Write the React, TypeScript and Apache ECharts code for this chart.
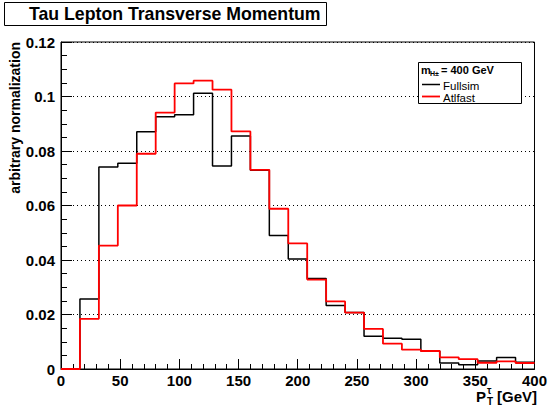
import React, { useEffect, useRef } from "react";
import * as echarts from "echarts";

const binEdges = [0, 16, 32, 48, 64, 80, 96, 112, 128, 144, 160, 176, 192, 208, 224, 240, 256, 272, 288, 304, 320, 336, 352, 368, 384, 400];
const fullsim = [0, 0.0257, 0.0741, 0.0755, 0.0871, 0.0926, 0.0933, 0.1012, 0.0745, 0.0855, 0.0729, 0.049, 0.0404, 0.0332, 0.0233, 0.0207, 0.012, 0.0113, 0.0109, 0.0066, 0.0022, 0.0016, 0.0029, 0.0042, 0.0025];
const atlfast = [0, 0.0184, 0.0453, 0.060, 0.079, 0.0941, 0.1048, 0.1058, 0.1025, 0.0872, 0.0731, 0.0588, 0.0461, 0.0328, 0.0248, 0.0207, 0.0147, 0.0093, 0.0071, 0.0066, 0.0043, 0.0036, 0.0023, 0.0028, 0.0022];
const xTicks = { min: 0, max: 400, interval: 50 };
const yTicks = { min: 0, max: 0.12, interval: 0.02 };
const titleText = "Tau Lepton Transverse Momentum";
const yTitle = "arbitrary normalization";
const legendNames = ["Fullsim", "Atlfast"];

function histData(vals: number[]) {
  const d: [number, number][] = vals.map((v, i) => [binEdges[i], v]);
  d.push([binEdges[binEdges.length - 1], vals[vals.length - 1]]);
  return d;
}

const FONT = "'Liberation Sans', Arial, Helvetica, sans-serif";

export default function App() {
  const ref = useRef<HTMLDivElement>(null);
  useEffect(() => {
    if (!ref.current) return;
    const chart = echarts.init(ref.current, undefined, { renderer: "svg" });
    const axisLabelStyle = { color: "#000", fontFamily: FONT, fontWeight: "bold" as const, fontSize: 15 };
    chart.setOption({
      animation: false,
      backgroundColor: "#fff",
      grid: { left: 61, right: 12, top: 42, bottom: 40, show: true, borderColor: "#000", borderWidth: 1, backgroundColor: "transparent" },
      xAxis: {
        type: "value",
        min: xTicks.min,
        max: xTicks.max,
        interval: xTicks.interval,
        axisLine: { show: true, lineStyle: { color: "#000", width: 1 } },
        axisTick: { show: true, inside: true, length: 10, lineStyle: { color: "#000" } },
        minorTick: { show: true, splitNumber: 5, length: 5, lineStyle: { color: "#000" } },
        splitLine: { show: false },
        axisLabel: { ...axisLabelStyle, margin: 4 },
      },
      yAxis: {
        type: "value",
        min: yTicks.min,
        max: yTicks.max,
        interval: yTicks.interval,
        axisLine: { show: true, lineStyle: { color: "#000", width: 1 } },
        axisTick: { show: true, inside: true, length: 11, lineStyle: { color: "#000" } },
        minorTick: { show: true, splitNumber: 4, length: 6, lineStyle: { color: "#000" } },
        splitLine: { show: true, lineStyle: { color: "#000", type: [1, 3], width: 1 } },
        axisLabel: { ...axisLabelStyle, margin: 6, formatter: (v: number) => String(+v.toFixed(2)) },
      },
      series: [
        {
          name: legendNames[0],
          type: "line",
          step: "end",
          symbol: "none",
          data: histData(fullsim),
          lineStyle: { color: "#000", width: 1.5 },
          z: 2,
        },
        {
          name: legendNames[1],
          type: "line",
          step: "end",
          symbol: "none",
          data: histData(atlfast),
          lineStyle: { color: "#ff0000", width: 1.8 },
          z: 3,
        },
      ],
      graphic: [
        { type: "rect", shape: { x: 4.5, y: 2.5, width: 322, height: 23 }, style: { fill: "#fff", stroke: "#000", lineWidth: 1 }, z: 10 },
        { type: "text", x: 29, y: 14, style: { text: titleText, fill: "#000", font: `bold 17.7px ${FONT}`, textAlign: "left", textVerticalAlign: "middle" }, z: 11 },
        { type: "text", x: 15, y: 42, rotation: Math.PI / 2, style: { text: yTitle, fill: "#000", font: `bold 14px ${FONT}`, textAlign: "right", textVerticalAlign: "middle" }, z: 11 },
        { type: "text", x: 537, y: 396, style: { text: "[GeV]", fill: "#000", font: `bold 15px ${FONT}`, textAlign: "right", textVerticalAlign: "middle" }, z: 11 },
        { type: "text", x: 476, y: 396, style: { text: "P", fill: "#000", font: `bold 15px ${FONT}`, textAlign: "left", textVerticalAlign: "middle" }, z: 11 },
        { type: "text", x: 487, y: 390, style: { text: "τ", fill: "#000", font: `bold 10px ${FONT}`, textAlign: "left", textVerticalAlign: "middle" }, z: 11 },
        { type: "text", x: 487, y: 401, style: { text: "T", fill: "#000", font: `bold 10px ${FONT}`, textAlign: "left", textVerticalAlign: "middle" }, z: 11 },
        { type: "rect", shape: { x: 418.5, y: 62.5, width: 103, height: 41 }, style: { fill: "#fff", stroke: "#000", lineWidth: 1 }, z: 10 },
        { type: "text", x: 421, y: 70, style: { text: "m", fill: "#000", font: `bold 11px ${FONT}`, textAlign: "left", textVerticalAlign: "middle" }, z: 11 },
        { type: "text", x: 430, y: 73, style: { text: "H±", fill: "#000", font: `bold 7px ${FONT}`, textAlign: "left", textVerticalAlign: "middle" }, z: 11 },
        { type: "text", x: 441, y: 70, style: { text: "= 400 GeV", fill: "#000", font: `bold 11px ${FONT}`, textAlign: "left", textVerticalAlign: "middle" }, z: 11 },
        { type: "line", shape: { x1: 422, y1: 84.5, x2: 440, y2: 84.5 }, style: { stroke: "#000", lineWidth: 1.5 }, z: 11 },
        { type: "text", x: 443, y: 86, style: { text: legendNames[0], fill: "#000", font: `11.5px ${FONT}`, textAlign: "left", textVerticalAlign: "middle" }, z: 11 },
        { type: "line", shape: { x1: 422, y1: 96.5, x2: 440, y2: 96.5 }, style: { stroke: "#ff0000", lineWidth: 1.8 }, z: 11 },
        { type: "text", x: 443, y: 98, style: { text: legendNames[1], fill: "#000", font: `11.5px ${FONT}`, textAlign: "left", textVerticalAlign: "middle" }, z: 11 },
      ],
    });
    return () => chart.dispose();
  }, []);
  return <div ref={ref} style={{ position: "fixed", left: 0, top: 0, width: 550, height: 409, background: "#fff" }} />;
}
